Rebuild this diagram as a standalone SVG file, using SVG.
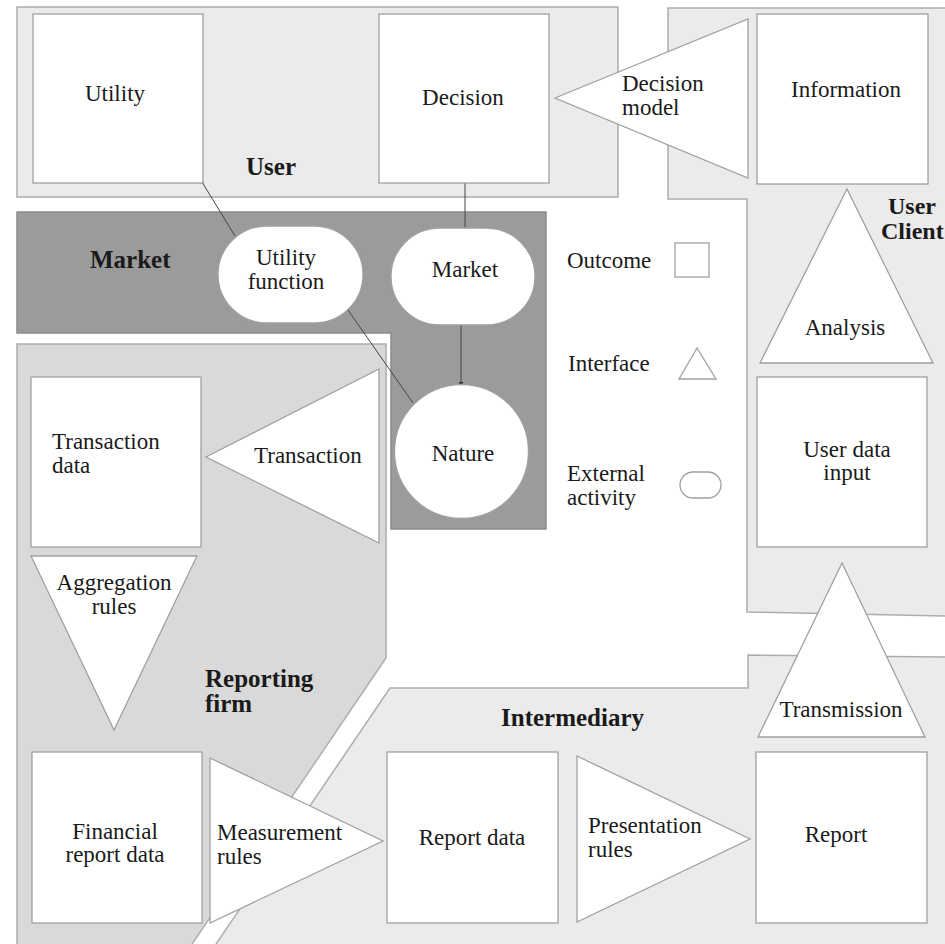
<svg xmlns="http://www.w3.org/2000/svg" width="945" height="944" viewBox="0 0 945 944">
<defs>
<style>
.reg{stroke:#adadad;stroke-width:1.5}
.light{fill:#ebebeb}
.mid{fill:#d9d9d9}
.dark{fill:#9b9b9b;stroke:#8c8c8c}
.nd{fill:#fff;stroke:#a0a0a0;stroke-width:1.3}
.t{font-family:"Liberation Serif",serif;font-size:23px;fill:#1a1a1a}
.c{text-anchor:middle}
.b{font-family:"Liberation Serif",serif;font-size:25px;font-weight:bold;fill:#1a1a1a}
.ln{stroke:#444;stroke-width:1;fill:none}
</style>
<marker id="dot" viewBox="0 0 4 4" refX="2" refY="2" markerWidth="4" markerHeight="4" markerUnits="userSpaceOnUse"><circle cx="2" cy="2" r="1.6" fill="#333"/></marker>
<marker id="arr" viewBox="0 0 6 6" refX="5" refY="3" markerWidth="5" markerHeight="5" markerUnits="userSpaceOnUse" orient="auto"><path d="M0,0 L6,3 L0,6 z" fill="#333"/></marker>
</defs>
<rect width="945" height="944" fill="#fff"/>

<g id="region-user-client">
<polygon class="reg light" points="668,8 950,8 950,616 747,612 747,199 668,199"/>
</g>
<g id="region-user">
<rect class="reg light" x="17" y="7" width="601" height="190"/>
<text class="b" x="246" y="175">User</text>
</g>
<g id="region-market">
<polygon class="reg dark" points="17,212 546,212 546,529 391,529 391,333 17,333"/>
<text class="b" x="90" y="268">Market</text>
</g>
<g id="region-reporting-firm">
<polygon class="reg mid" points="17,344 386,344 386,658 188,950 17,950"/>
<text class="b" x="205" y="687">Reporting<tspan x="205" y="712">firm</tspan></text>
</g>
<g id="region-intermediary">
<polygon class="reg light" points="390,688 748,688 748,655 950,657 950,950 212,950"/>
<text class="b" x="501" y="726">Intermediary</text>
</g>
<g id="label-user-client">
<text class="b" style="font-size:24px" x="888" y="214">User<tspan x="881" y="239">Client</tspan></text>
</g>

<g id="connectors">
<line class="ln" x1="235" y1="236" x2="202" y2="182" marker-end="url(#dot)"/>
<line class="ln" x1="348" y1="310" x2="413" y2="403"/>
<line class="ln" x1="465" y1="183" x2="465" y2="228"/>
<line class="ln" x1="461" y1="325" x2="461" y2="386" marker-end="url(#arr)"/>
</g>

<g id="node-utility">
<rect class="nd" x="33" y="14" width="170" height="169"/>
<text class="t c" x="115" y="101">Utility</text>
</g>
<g id="node-decision">
<rect class="nd" x="379" y="14" width="170" height="169"/>
<text class="t c" x="463" y="105">Decision</text>
</g>
<g id="node-decision-model">
<polygon class="nd" points="555,98 748,19 748,178"/>
<text class="t" x="622" y="91">Decision<tspan x="622" y="115">model</tspan></text>
</g>
<g id="node-information">
<rect class="nd" x="757" y="14" width="171" height="170"/>
<text class="t c" x="846" y="97">Information</text>
</g>
<g id="node-analysis">
<polygon class="nd" points="847,189 760,363 933,363"/>
<text class="t c" x="845" y="335">Analysis</text>
</g>
<g id="node-user-data-input">
<rect class="nd" x="757" y="377" width="170" height="170"/>
<text class="t c" x="847" y="457">User data<tspan x="847" y="480">input</tspan></text>
</g>
<g id="node-transmission">
<polygon class="nd" points="842,563 758,737 925,737"/>
<text class="t c" x="841" y="717">Transmission</text>
</g>
<g id="node-utility-function">
<rect class="nd" x="218" y="226" width="145" height="97" rx="48.5" ry="48.5"/>
<text class="t c" x="286" y="265">Utility<tspan x="286" y="289">function</tspan></text>
</g>
<g id="node-market">
<rect class="nd" x="391" y="228" width="144" height="97" rx="48.5" ry="48.5"/>
<text class="t c" x="465" y="277">Market</text>
</g>
<g id="node-nature">
<circle class="nd" cx="461.5" cy="451.5" r="67"/>
<text class="t c" x="463" y="461">Nature</text>
</g>
<g id="node-transaction-data">
<rect class="nd" x="31" y="377" width="170" height="170"/>
<text class="t" x="52" y="449">Transaction<tspan x="52" y="473">data</tspan></text>
</g>
<g id="node-transaction">
<polygon class="nd" points="206,457 379,369 379,543"/>
<text class="t" x="254" y="463">Transaction</text>
</g>
<g id="node-aggregation-rules">
<polygon class="nd" points="31,556 197,556 114,730"/>
<text class="t c" x="114" y="590">Aggregation<tspan x="114" y="614">rules</tspan></text>
</g>
<g id="node-financial-report-data">
<rect class="nd" x="32" y="752" width="170" height="171"/>
<text class="t c" x="115" y="839">Financial<tspan x="115" y="862">report data</tspan></text>
</g>
<g id="node-measurement-rules">
<polygon class="nd" points="210,758 383,841 210,923"/>
<text class="t" x="217" y="840">Measurement<tspan x="217" y="864">rules</tspan></text>
</g>
<g id="node-report-data">
<rect class="nd" x="387" y="752" width="171" height="171"/>
<text class="t c" x="472" y="845">Report data</text>
</g>
<g id="node-presentation-rules">
<polygon class="nd" points="577,756 750,839 577,922"/>
<text class="t" x="588" y="833">Presentation<tspan x="588" y="857">rules</tspan></text>
</g>
<g id="node-report">
<rect class="nd" x="756" y="752" width="171" height="171"/>
<text class="t c" x="836" y="842">Report</text>
</g>

<g id="legend">
<text class="t" x="567" y="268">Outcome</text>
<rect class="nd" x="675" y="243" width="34" height="34"/>
<text class="t" x="568" y="371">Interface</text>
<polygon class="nd" points="697,348 679,379 716,379"/>
<text class="t" x="567" y="481">External<tspan x="567" y="505">activity</tspan></text>
<rect class="nd" x="680" y="472" width="41" height="26" rx="13" ry="13"/>
</g>
</svg>
